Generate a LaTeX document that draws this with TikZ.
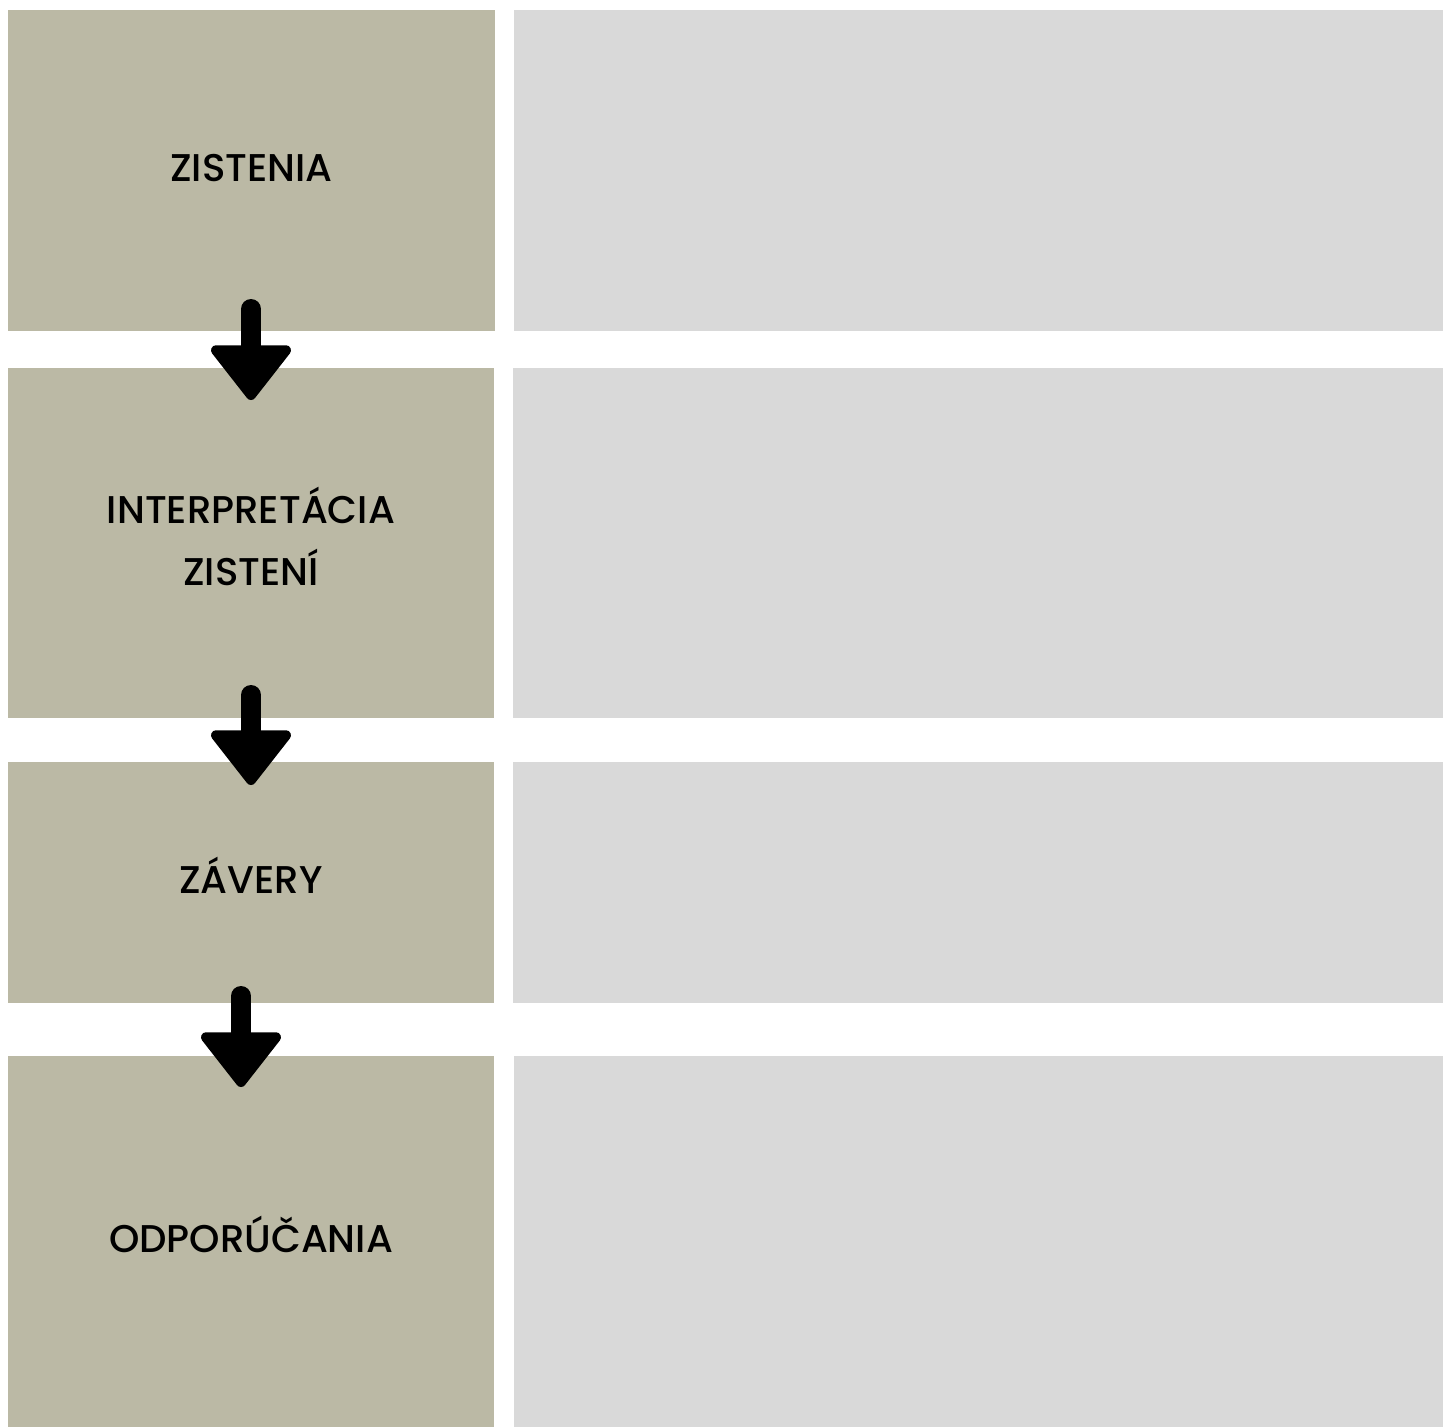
\documentclass[tikz,border=0pt]{standalone}
\usepackage{fontspec}
\setmainfont{Poppins}[UprightFont={* Medium}]
\usepackage{xcolor}
\usetikzlibrary{arrows.meta,positioning}
\definecolor{StepTan}{HTML}{BBB9A5}
\definecolor{NoteGrey}{HTML}{D9D9D9}
\tikzset{stepbox/.style={fill=StepTan,inner sep=0pt,outer sep=0pt,anchor=north west,
 align=center,text height=8.9mm,text depth=3.2mm,font=\fontsize{27.5}{44}\selectfont},
 notebox/.style={fill=NoteGrey,inner sep=0pt,outer sep=0pt,anchor=north west},
 flow/.style={line width=5mm,line cap=round,
 -{Triangle[width=22mm,length=14.5mm,line width=2.5mm,round]}}}

\begin{document}
\begin{tikzpicture}[x=0.25mm,y=-0.25mm]
\useasboundingbox (0,0) rectangle (1443,1427);
% left column
\node[stepbox,minimum width=121.75mm,minimum height=80.25mm] (zis) at (8,10) {ZISTENIA};
\node[stepbox,text height=24.3mm,minimum width=121.5mm,minimum height=87.5mm] (int) at (8,368) {INTERPRETÁCIA\\ZISTENÍ};
\node[stepbox,minimum width=121.5mm,minimum height=60.25mm] (zav) at (8,762) {ZÁVERY};
\node[stepbox,minimum width=121.5mm,minimum height=92.75mm] (odp) at (8,1056) {ODPORÚČANIA};
% right column
\node[notebox,minimum width=232.25mm,minimum height=80.25mm] (n1) at (514,10) {};
\node[notebox,minimum width=232.5mm,minimum height=87.5mm] (n2) at (513,368) {};
\node[notebox,minimum width=232.5mm,minimum height=60.25mm] (n3) at (513,762) {};
\node[notebox,minimum width=232.5mm,minimum height=92.75mm] (n4) at (514,1056) {};
% arrows
\coordinate (a1) at (251,309);\coordinate (b1) at (251,400);
\coordinate (a2) at (251,695);\coordinate (b2) at (251,785);
\coordinate (a3) at (241,996);\coordinate (b3) at (241,1087);
\draw[flow] (a1)--(b1);
\draw[flow] (a2)--(b2);
\draw[flow] (a3)--(b3);
\end{tikzpicture}
\end{document}
